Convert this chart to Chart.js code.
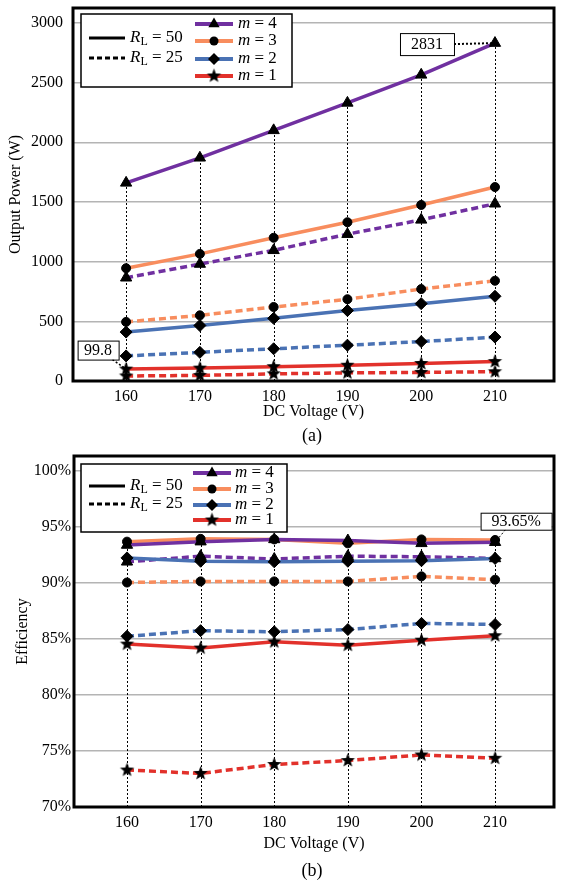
<!DOCTYPE html>
<html>
<head>
<meta charset="utf-8">
<script src="https://cdn.jsdelivr.net/npm/chart.js@4.4.1/dist/chart.umd.min.js"></script>
<style>
  body { margin: 0; background: #fff; width: 562px; height: 882px; position: relative; overflow: hidden; }
  .wrap { position: absolute; left: 0; width: 562px; }
  .cap { position: absolute; left: 262px; width: 100px; text-align: center; font: 18px "Liberation Serif", serif; color: #000; }
</style>
</head>
<body>
<div class="wrap" style="top:0;height:430px"><canvas id="power-chart"></canvas></div>
<div class="cap" style="top:425px">(a)</div>
<div class="wrap" style="top:440px;height:442px"><canvas id="eff-chart"></canvas></div>
<div class="cap" style="top:860px">(b)</div>
<script>
// data
const voltages = [160, 170, 180, 190, 200, 210];
const powerTicks = [0, 500, 1000, 1500, 2000, 2500, 3000];
const effTicks = [70, 75, 80, 85, 90, 95, 100];

// output power (W)
const p4_50 = [1660, 1870, 2100, 2330, 2565, 2831];
const p3_50 = [945, 1065, 1200, 1330, 1475, 1625];
const p2_50 = [410, 465, 525, 590, 648, 710];
const p1_50 = [99.8, 108, 120, 132, 147, 163];
const p4_25 = [865, 980, 1095, 1230, 1350, 1485];
const p3_25 = [495, 550, 620, 685, 770, 840];
const p2_25 = [210, 240, 270, 300, 330, 368];
const p1_25 = [42, 47, 60, 68, 72, 78];

// efficiency (%)
const e4_50 = [93.4, 93.7, 93.9, 93.8, 93.55, 93.65];
const e3_50 = [93.7, 93.95, 93.9, 93.55, 93.9, 93.85];
const e2_50 = [92.25, 91.95, 91.9, 91.95, 92.0, 92.2];
const e1_50 = [84.55, 84.2, 84.75, 84.45, 84.9, 85.3];
const e4_25 = [91.9, 92.4, 92.15, 92.4, 92.35, 92.2];
const e3_25 = [90.05, 90.15, 90.15, 90.15, 90.6, 90.3];
const e2_25 = [85.25, 85.75, 85.65, 85.85, 86.4, 86.3];
const e1_25 = [73.3, 73.0, 73.8, 74.15, 74.65, 74.35];

const colors = { 4: "#7030a0", 3: "#f88d5e", 2: "#4a72b4", 1: "#e2312b" };
const serif = '"Liberation Serif", "Times New Roman", serif';

function makeStar(r) {
    const c = document.createElement("canvas");
    const s = Math.ceil(r * 2 + 2);
    c.width = s; c.height = s;
    const g = c.getContext("2d");
    g.beginPath();
    for (let k = 0; k < 10; k++) {
        const rad = k % 2 ? r * 0.42 : r;
        const a = -Math.PI / 2 + k * Math.PI / 5;
        g.lineTo(s / 2 + rad * Math.cos(a), s / 2 + rad * Math.sin(a));
    }
    g.closePath();
    g.fillStyle = "#000";
    g.fill();
    return c;
}
const starImg = makeStar(7.5);
const markers = {
    4: { style: "triangle", r: 6.5 },
    3: { style: "circle", r: 4.5 },
    2: { style: "rectRot", r: 6 },
    1: { style: starImg, r: 7 },
};

function buildDatasets(series) {
    const lines = series.map(s => ({
        data: voltages.map((v, i) => ({ x: v, y: s.values[i] })),
        borderColor: colors[s.m],
        borderWidth: 3.5,
        borderDash: s.dashed ? [7, 4] : [],
        pointRadius: 0,
        tension: 0,
        fill: false,
        order: 2,
    }));
    const marks = series.map(s => ({
        data: voltages.map((v, i) => ({ x: v, y: s.values[i] })),
        showLine: false,
        pointStyle: markers[s.m].style,
        pointRadius: markers[s.m].r,
        backgroundColor: "#000",
        borderColor: "#000",
        borderWidth: 1,
        order: 1,
    }));
    return lines.concat(marks);
}

// marker drawing for the hand made legend
function drawMarker(ctx, m, x, y) {
    const r = markers[m].r;
    ctx.save();
    ctx.fillStyle = "#000";
    ctx.beginPath();
    if (m === 4) {
        for (let k = 0; k < 3; k++) {
            const a = -Math.PI / 2 + k * 2 * Math.PI / 3;
            ctx.lineTo(x + r * Math.cos(a), y + r * Math.sin(a));
        }
        ctx.closePath(); ctx.fill();
    } else if (m === 3) {
        ctx.arc(x, y, r, 0, Math.PI * 2); ctx.fill();
    } else if (m === 2) {
        ctx.moveTo(x, y - r); ctx.lineTo(x + r, y); ctx.lineTo(x, y + r); ctx.lineTo(x - r, y);
        ctx.closePath(); ctx.fill();
    } else {
        ctx.drawImage(starImg, x - starImg.width / 2, y - starImg.height / 2);
    }
    ctx.restore();
}

const figurePlugin = {
    id: "figure",
    beforeDatasetsDraw(chart, args, opts) {
        // dotted drop lines from the axis up to the highest marker
        const { ctx, chartArea, scales } = chart;
        ctx.save();
        ctx.strokeStyle = "#000";
        ctx.lineWidth = 1;
        ctx.setLineDash([2, 2]);
        voltages.forEach((v, i) => {
            const top = Math.max(...opts.series.map(s => s.values[i]));
            const x = Math.round(scales.x.getPixelForValue(v)) + 0.5;
            ctx.beginPath();
            ctx.moveTo(x, chartArea.bottom);
            ctx.lineTo(x, scales.y.getPixelForValue(top));
            ctx.stroke();
        });
        ctx.restore();
    },
    afterDatasetsDraw(chart, args, opts) {
        const { ctx, chartArea, scales } = chart;
        ctx.save();
        // frame
        ctx.strokeStyle = "#000";
        ctx.lineWidth = 3;
        ctx.strokeRect(chartArea.left, chartArea.top, chartArea.right - chartArea.left, chartArea.bottom - chartArea.top);
        // value call-outs
        opts.notes.forEach(n => {
            const px = scales.x.getPixelForValue(n.x);
            const py = scales.y.getPixelForValue(n.y);
            const cx = px + n.dx, cy = py + n.dy;
            const bx = cx - n.w / 2, by = cy - n.h / 2;
            ctx.setLineDash([2, 2]);
            ctx.lineWidth = n.lw;
            ctx.beginPath();
            ctx.moveTo(bx + n.ax * n.w, by + n.ay * n.h);
            ctx.lineTo(px, py);
            ctx.stroke();
            ctx.setLineDash([]);
            ctx.fillStyle = "#fff";
            ctx.fillRect(bx, by, n.w, n.h);
            ctx.lineWidth = 1;
            ctx.strokeRect(bx + 0.5, by + 0.5, n.w, n.h);
            ctx.fillStyle = "#000";
            ctx.font = "16px " + serif;
            ctx.textAlign = "center";
            ctx.textBaseline = "middle";
            ctx.fillText(n.text, cx, cy + 1);
        });
        ctx.restore();
    },
    afterDraw(chart, args, opts) {
        const L = opts.legend;
        const ctx = chart.ctx;
        ctx.save();
        ctx.fillStyle = "#fff";
        ctx.fillRect(L.x, L.y, L.w, L.h);
        ctx.strokeStyle = "#000";
        ctx.lineWidth = 1.5;
        ctx.strokeRect(L.x, L.y, L.w, L.h);
        ctx.textBaseline = "middle";
        ctx.fillStyle = "#000";
        // load rows
        [["50", false], ["25", true]].forEach(([rl, dashed], k) => {
            const y = L.rlRows[k];
            ctx.lineWidth = 3;
            ctx.setLineDash(dashed ? [5, 3] : []);
            ctx.beginPath();
            ctx.moveTo(L.rlLine[0], y);
            ctx.lineTo(L.rlLine[1], y);
            ctx.stroke();
            ctx.setLineDash([]);
            let x = L.rlText;
            ctx.font = "italic 17px " + serif;
            ctx.fillText("R", x, y);
            x += ctx.measureText("R").width;
            ctx.font = "12px " + serif;
            ctx.fillText("L", x, y + 4);
            x += ctx.measureText("L").width;
            ctx.font = "17px " + serif;
            ctx.fillText(" = " + rl, x, y);
        });
        // module rows
        [4, 3, 2, 1].forEach((m, k) => {
            const y = L.mRows[k];
            ctx.strokeStyle = colors[m];
            ctx.lineWidth = 4;
            ctx.beginPath();
            ctx.moveTo(L.mLine[0], y);
            ctx.lineTo(L.mLine[1], y);
            ctx.stroke();
            drawMarker(ctx, m, (L.mLine[0] + L.mLine[1]) / 2, y);
            let x = L.mText;
            ctx.font = "italic 17px " + serif;
            ctx.fillText("m", x, y);
            x += ctx.measureText("m").width;
            ctx.font = "17px " + serif;
            ctx.fillText(" = " + m, x, y);
        });
        ctx.restore();
    },
};

function makeChart(el, cfg) {
    return new Chart(document.getElementById(el).getContext("2d"), {
        type: "line",
        data: { datasets: buildDatasets(cfg.series) },
        options: {
            responsive: true,
            maintainAspectRatio: false,
            animation: false,
            layout: { padding: { top: cfg.padTop, right: 7, left: 0, bottom: 0 } },
            plugins: {
                legend: { display: false },
                tooltip: { enabled: false },
                figure: { series: cfg.series, notes: cfg.notes, legend: cfg.legend },
            },
            scales: {
                x: {
                    type: "linear",
                    min: 152.8,
                    max: 218,
                    afterBuildTicks: s => { s.ticks = voltages.map(v => ({ value: v })); },
                    afterFit: s => { s.height = cfg.xHeight; },
                    grid: { display: false, drawTicks: false },
                    border: { display: false },
                    ticks: { color: "#000", font: { family: serif, size: 16 }, padding: 6, maxRotation: 0, autoSkip: false },
                    title: { display: true, text: "DC Voltage (V)", color: "#000", font: { family: serif, size: 16 }, padding: { top: 0, bottom: cfg.xTitlePad } },
                },
                y: {
                    min: cfg.yMin,
                    max: cfg.yMax,
                    afterBuildTicks: s => { s.ticks = cfg.yTicks.map(v => ({ value: v })); },
                    afterFit: s => { s.width = cfg.yWidth; s.paddingTop = 0; s.paddingBottom = 0; },
                    grid: { color: "#b4b4b4", lineWidth: 1.5, drawTicks: false },
                    border: { display: false },
                    ticks: { color: "#000", font: { family: serif, size: 16 }, padding: cfg.yTickPad, callback: cfg.yLabel },
                    title: { display: true, text: cfg.yTitle, color: "#000", font: { family: serif, size: 16 }, padding: { top: cfg.yTitlePad, bottom: 0 } },
                },
            },
        },
        plugins: [figurePlugin],
    });
}

makeChart("power-chart", {
    series: [
        { m: 4, dashed: false, values: p4_50 }, { m: 3, dashed: false, values: p3_50 },
        { m: 2, dashed: false, values: p2_50 }, { m: 1, dashed: false, values: p1_50 },
        { m: 4, dashed: true, values: p4_25 }, { m: 3, dashed: true, values: p3_25 },
        { m: 2, dashed: true, values: p2_25 }, { m: 1, dashed: true, values: p1_25 },
    ],
    yMin: 0, yMax: 3125, yTicks: powerTicks, yLabel: v => String(v),
    yTitle: "Output Power (W)", yTitlePad: 6, yWidth: 73, yTickPad: 10,
    padTop: 5, xHeight: 49, xTitlePad: 9,
    notes: [
        { x: 210, y: p4_50[5], text: "2831", dx: -68, dy: 1, w: 54, h: 22, ax: 1, ay: 0.5, lw: 2 },
        { x: 160, y: p1_50[0], text: "99.8", dx: -28, dy: -19, w: 41, h: 19, ax: 0.85, ay: 1, lw: 1.5 },
    ],
    legend: { x: 81, y: 14, w: 211, h: 73, rlRows: [38, 58], rlLine: [89, 125], rlText: 130,
              mRows: [24, 41, 59, 76], mLine: [195, 233], mText: 238 },
});

makeChart("eff-chart", {
    series: [
        { m: 4, dashed: false, values: e4_50 }, { m: 3, dashed: false, values: e3_50 },
        { m: 2, dashed: false, values: e2_50 }, { m: 1, dashed: false, values: e1_50 },
        { m: 4, dashed: true, values: e4_25 }, { m: 3, dashed: true, values: e3_25 },
        { m: 2, dashed: true, values: e2_25 }, { m: 1, dashed: true, values: e1_25 },
    ],
    yMin: 70, yMax: 101.35, yTicks: effTicks, yLabel: v => v + "%",
    yTitle: "Efficiency", yTitlePad: 13, yWidth: 74, yTickPad: 3,
    padTop: 16, xHeight: 75, xTitlePad: 29,
    notes: [
        { x: 210, y: e4_50[5], text: "93.65%", dx: 21, dy: -21, w: 71, h: 17, ax: 0.35, ay: 1, lw: 1 },
    ],
    legend: { x: 81, y: 24, w: 206, h: 68, rlRows: [46, 64], rlLine: [89, 125], rlText: 130,
              mRows: [33, 49, 65, 80], mLine: [193, 231], mText: 235 },
});
</script>
</body>
</html>
